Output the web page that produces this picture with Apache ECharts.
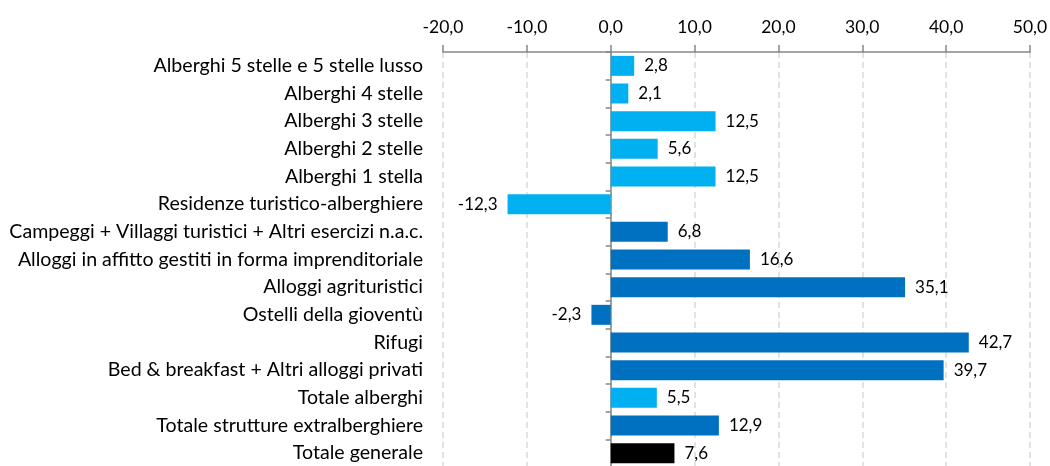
<!DOCTYPE html>
<html>
<head>
<meta charset="utf-8">
<script src="https://cdn.jsdelivr.net/npm/echarts@6/dist/echarts.min.js"></script>
<style>
  html, body { margin: 0; padding: 0; background: #fff; }
  #chart { width: 1050px; height: 466px; }
</style>
</head>
<body>
<div id="chart"></div>
<script>
// categorie (dall'alto verso il basso)
const categories = [
  'Alberghi 5 stelle e 5 stelle lusso',
  'Alberghi 4 stelle',
  'Alberghi 3 stelle',
  'Alberghi 2 stelle',
  'Alberghi 1 stella',
  'Residenze turistico-alberghiere',
  'Campeggi + Villaggi turistici + Altri esercizi n.a.c.',
  'Alloggi in affitto gestiti in forma imprenditoriale',
  'Alloggi agrituristici',
  'Ostelli della gioventù',
  'Rifugi',
  'Bed & breakfast + Altri alloggi privati',
  'Totale alberghi',
  'Totale strutture extralberghiere',
  'Totale generale'
]
const values = [2.8, 2.1, 12.5, 5.6, 12.5, -12.3, 6.8, 16.6, 35.1, -2.3, 42.7, 39.7, 5.5, 12.9, 7.6]
// gruppo: 0 = alberghiero, 1 = extralberghiero, 2 = totale
const groups = [0, 0, 0, 0, 0, 0, 1, 1, 1, 1, 1, 1, 0, 1, 2]
const groupColors = ['#00b0f0', '#0070c0', '#000000']
const xTicks = { min: -20, max: 50, step: 10 }

const fmt = v => v.toFixed(1).replace('.', ',')
const font = 'Lato'

const chart = echarts.init(document.getElementById('chart'))
chart.setOption({
  animation: false,
  grid: { left: 443, right: 20, top: 52, height: 415, outerBoundsMode: 'none' },
  xAxis: {
    type: 'value',
    position: 'top',
    min: xTicks.min,
    max: xTicks.max,
    interval: xTicks.step,
    axisLine: { show: true, onZero: false, lineStyle: { color: '#868686', width: 1.5 } },
    axisTick: { show: true, inside: false, length: 7, lineStyle: { color: '#868686', width: 1.5 } },
    axisLabel: { margin: 16, color: '#000', fontFamily: font, fontSize: 17.5, formatter: fmt },
    splitLine: { show: true, lineStyle: { color: '#d9d9d9', type: [6, 4], width: 1.5 } }
  },
  yAxis: {
    type: 'category',
    inverse: true,
    data: categories,
    axisLine: { show: true, onZero: true, lineStyle: { color: '#868686', width: 1.5 } },
    axisTick: { show: true, length: 5, lineStyle: { color: '#868686', width: 1.5 } },
    axisLabel: { margin: 20, color: '#000', fontFamily: font, fontSize: 19.6, align: 'right' }
  },
  series: [{
    type: 'bar',
    barWidth: 20,
    data: values.map((v, i) => ({
      value: v,
      itemStyle: { color: groupColors[groups[i]] },
      label: { position: v < 0 ? 'left' : 'right' }
    })),
    label: {
      show: true,
      distance: 10,
      color: '#000',
      fontFamily: font,
      fontSize: 17,
      formatter: p => fmt(p.value)
    }
  }]
})
</script>
</body>
</html>
